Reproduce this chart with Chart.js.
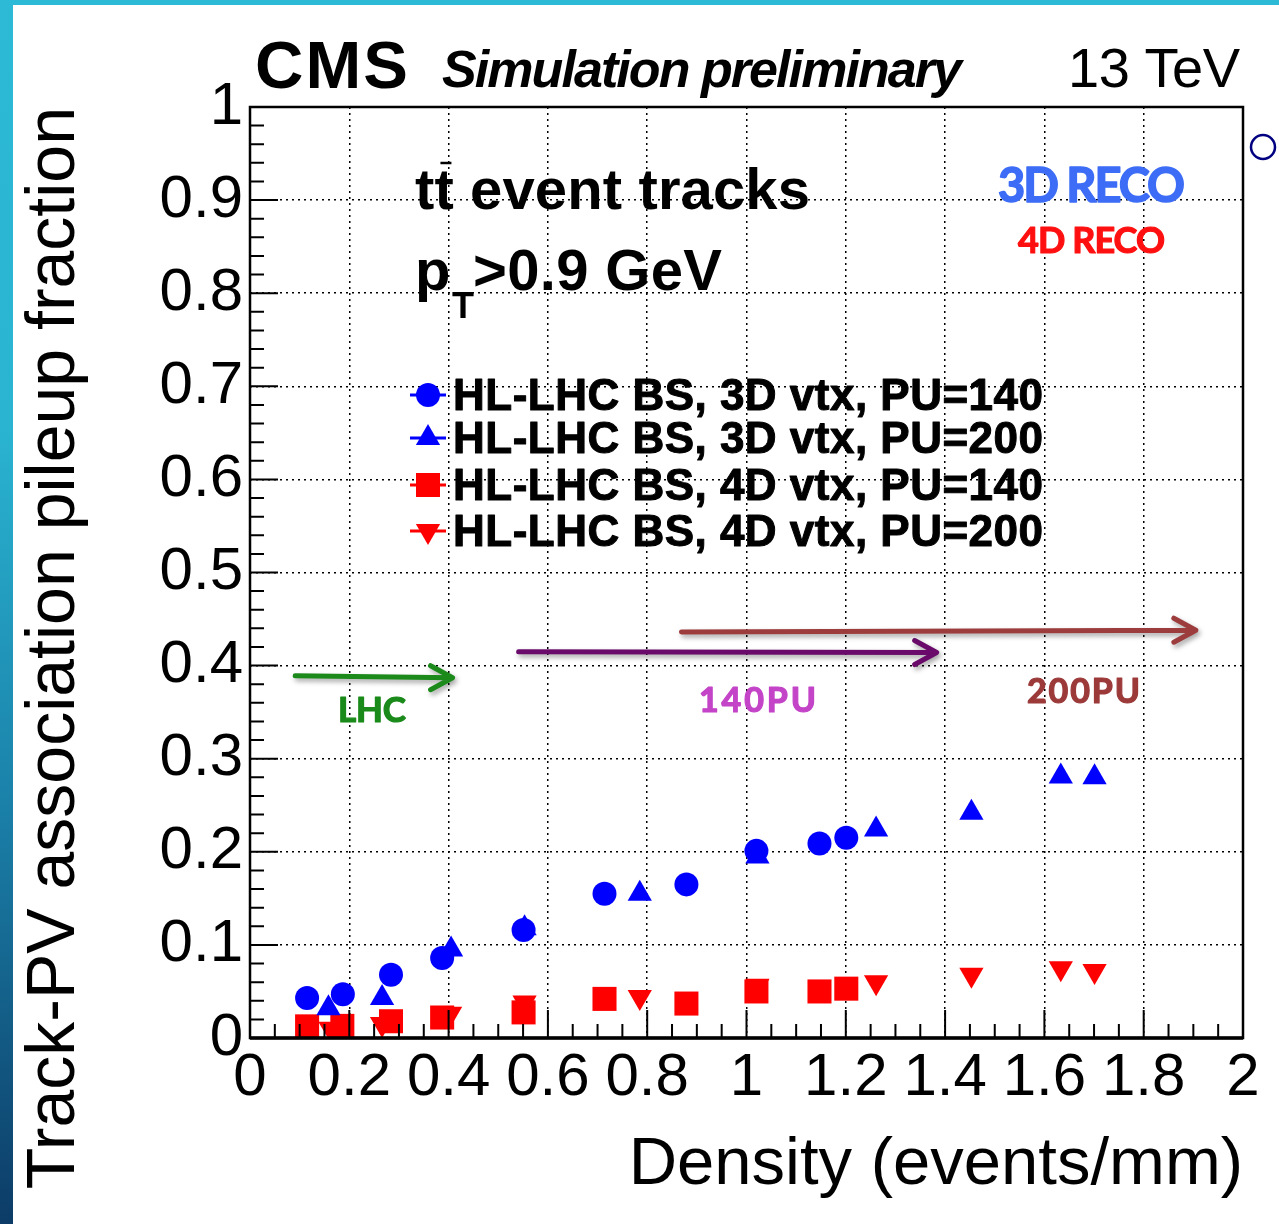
<!DOCTYPE html>
<html>
<head>
<meta charset="utf-8">
<title>Track-PV association pileup fraction</title>
<script src="https://cdn.jsdelivr.net/npm/chart.js@4.4.1/dist/chart.umd.min.js"></script>
<style>
	html, body { margin: 0; padding: 0; background: #fff; }
	#wrap { position: relative; width: 1279px; height: 1224px; overflow: hidden; background: #fff; }
	#chart { position: absolute; left: 0; top: 0; }
	#topband { position: absolute; left: 0; top: 0; width: 1279px; height: 5px; background: #2cbad6; }
	#leftband { position: absolute; left: 0; top: 0; width: 13px; height: 1224px;
		background: linear-gradient(#2cbad6 0%, #2ab4d1 35%, #1b82aa 65%, #0c3c67 100%); }
</style>
</head>
<body>
<div id="wrap">
	<canvas id="chart" width="1279" height="1224"></canvas>
	<div id="topband"></div>
	<div id="leftband"></div>
</div>
<script>
// values (density in events/mm, pileup fraction)
var density3d140 = [0.115, 0.187, 0.284, 0.387, 0.551, 0.714, 0.879, 1.020, 1.147, 1.201];
var frac3d140    = [0.043, 0.047, 0.068, 0.086, 0.116, 0.155, 0.165, 0.201, 0.209, 0.215];
var density3d200 = [0.158, 0.266, 0.405, 0.553, 0.785, 1.022, 1.261, 1.453, 1.633, 1.701];
var frac3d200    = [0.032, 0.043, 0.095, 0.118, 0.155, 0.195, 0.224, 0.242, 0.281, 0.280];
var density4d140 = [0.115, 0.186, 0.284, 0.387, 0.551, 0.714, 0.879, 1.020, 1.147, 1.201];
var frac4d140    = [0.0125, 0.013, 0.018, 0.022, 0.0275, 0.042, 0.037, 0.050, 0.050, 0.053];
var density4d200 = [0.162, 0.266, 0.403, 0.553, 0.785, 1.022, 1.261, 1.453, 1.633, 1.701];
var frac4d200    = [0.010, 0.015, 0.026, 0.038, 0.044, 0.056, 0.060, 0.068, 0.075, 0.072];

var seriesLabels = ['HL-LHC BS, 3D vtx, PU=140', 'HL-LHC BS, 3D vtx, PU=200',
	'HL-LHC BS, 4D vtx, PU=140', 'HL-LHC BS, 4D vtx, PU=200'];

// x axis 0..2 step 0.2, y axis 0..1 step 0.1
var xTicks = [0, 0.2, 0.4, 0.6, 0.8, 1, 1.2, 1.4, 1.6, 1.8, 2];
var yTicks = [0, 0.1, 0.2, 0.3, 0.4, 0.5, 0.6, 0.7, 0.8, 0.9, 1];

// pileup arrows: [x0, y0, x1, y1] in axis units
var arrowLHC   = [0.091, 0.389, 0.408, 0.387];
var arrow140PU = [0.541, 0.415, 1.383, 0.414];
var arrow200PU = [0.869, 0.436, 1.905, 0.438];

!(function(){
	'use strict';

	var FONT = '"Liberation Sans", Arial, Helvetica, sans-serif';
	var LABELFONT = 'Lato, "Open Sans", sans-serif';

	function pts(xs, ys){
		var out = [];
		for (var i = 0; i < xs.length; i++) {
			out.push({ x: xs[i], y: ys[i] });
		}
		return out;
	}

	function fmt(v){
		return String(+(+v).toFixed(1));
	}

	// draw text squeezed / stretched to a given width (ROOT-ish look)
	function fitText(ctx, text, x, y, width, heavy){
		ctx.letterSpacing = '0px';
		var w = ctx.measureText(text).width;
		var sp = text.length > 1 ? (width - w) / (text.length - 1) : 0;
		ctx.letterSpacing = sp + 'px';
		ctx.fillText(text, x, y);
		if (heavy) {
			ctx.strokeStyle = ctx.fillStyle;
			ctx.lineWidth = heavy;
			ctx.lineJoin = 'round';
			ctx.strokeText(text, x, y);
		}
		ctx.letterSpacing = '0px';
		return sp;
	}

	function drawMarker(ctx, style, x, y, r, color){
		ctx.fillStyle = color;
		ctx.beginPath();
		if (style === 'circle') {
			ctx.arc(x, y, r, 0, Math.PI * 2);
		} else if (style === 'rect') {
			var s = r * Math.SQRT1_2;
			ctx.rect(x - s, y - s, 2 * s, 2 * s);
		} else if (style === 'up') {
			ctx.moveTo(x, y - r);
			ctx.lineTo(x + r * 0.866, y + r / 2);
			ctx.lineTo(x - r * 0.866, y + r / 2);
			ctx.closePath();
		} else {
			ctx.moveTo(x, y + r);
			ctx.lineTo(x + r * 0.866, y - r / 2);
			ctx.lineTo(x - r * 0.866, y - r / 2);
			ctx.closePath();
		}
		ctx.fill();
	}

	function drawArrow(ctx, xs, ys, a, color){
		var x0 = xs.getPixelForValue(a[0]), y0 = ys.getPixelForValue(a[1]);
		var x1 = xs.getPixelForValue(a[2]), y1 = ys.getPixelForValue(a[3]);
		ctx.save();
		ctx.strokeStyle = color;
		ctx.lineWidth = 5;
		ctx.lineCap = 'round';
		ctx.lineJoin = 'round';
		ctx.shadowColor = 'rgba(0,0,0,0.35)';
		ctx.shadowBlur = 5;
		ctx.shadowOffsetX = 2;
		ctx.shadowOffsetY = 3;
		ctx.beginPath();
		ctx.moveTo(x0, y0);
		ctx.lineTo(x1, y1);
		ctx.moveTo(x1 - 22, y1 - 12);
		ctx.lineTo(x1, y1);
		ctx.lineTo(x1 - 22, y1 + 12);
		ctx.stroke();
		ctx.restore();
	}

	var decor = {
		id: 'cmsDecor',
		afterDraw: function(chart){
			var ctx = chart.ctx;
			var xs = chart.scales.x, ys = chart.scales.y;
			var a = chart.chartArea;
			var i, p, len;

			ctx.save();

			// inner ticks
			ctx.strokeStyle = '#000';
			ctx.lineWidth = 2;
			ctx.beginPath();
			for (i = 0; i <= 40; i++) {
				p = xs.getPixelForValue(i * 0.05);
				len = (i % 4 === 0) ? 28 : 14;
				ctx.moveTo(p, a.bottom);
				ctx.lineTo(p, a.bottom - len);
			}
			for (i = 0; i <= 50; i++) {
				p = ys.getPixelForValue(i * 0.02);
				len = (i % 5 === 0) ? 28 : 14;
				ctx.moveTo(a.left, p);
				ctx.lineTo(a.left + len, p);
			}
			ctx.stroke();

			// frame
			ctx.lineWidth = 2.5;
			ctx.strokeRect(a.left, a.top, a.right - a.left, a.bottom - a.top);
			ctx.lineWidth = 3.5;
			ctx.beginPath();
			ctx.moveTo(a.left, a.bottom);
			ctx.lineTo(a.right, a.bottom);
			ctx.stroke();

			// header
			ctx.fillStyle = '#000';
			ctx.textAlign = 'left';
			ctx.textBaseline = 'alphabetic';
			ctx.font = 'bold 67px ' + FONT;
			fitText(ctx, 'CMS', 255, 88, 153);
			ctx.font = 'italic bold 52px ' + FONT;
			fitText(ctx, 'Simulation preliminary', 442, 87, 520);
			ctx.font = '56px ' + FONT;
			fitText(ctx, '13 TeV', 1068, 87, 172);

			// tt event tracks
			ctx.font = 'bold 58px ' + FONT;
			var sp = fitText(ctx, 'tt event tracks', 415, 209, 395);
			var tw = ctx.measureText('t').width + sp;
			ctx.lineWidth = 2.5;
			ctx.strokeStyle = '#000';
			ctx.beginPath();
			ctx.moveTo(415 + tw + 6, 163);
			ctx.lineTo(415 + tw + 17, 163);
			ctx.stroke();

			// pT > 0.9 GeV
			ctx.font = 'bold 58px ' + FONT;
			ctx.fillText('p', 415, 290);
			ctx.font = 'bold 36px ' + FONT;
			ctx.fillText('T', 452, 318);
			ctx.font = 'bold 58px ' + FONT;
			fitText(ctx, '>0.9 GeV', 473, 290, 249);

			// legend
			var styles = ['circle', 'up', 'rect', 'down'];
			var colors = ['#0000ff', '#0000ff', '#ff0000', '#ff0000'];
			var sizes = [12, 14, 17, 14];
			var rows = [395, 438, 485, 531];
			for (i = 0; i < 4; i++) {
				ctx.strokeStyle = colors[i];
				ctx.lineWidth = 3;
				ctx.beginPath();
				ctx.moveTo(410, rows[i]);
				ctx.lineTo(446, rows[i]);
				ctx.stroke();
				drawMarker(ctx, styles[i], 428, rows[i], sizes[i], colors[i]);
				ctx.fillStyle = '#000';
				ctx.font = 'bold 44px ' + FONT;
				fitText(ctx, seriesLabels[i], 453, rows[i] + 15, 590, 1);
			}

			// reconstruction labels
			ctx.font = 'bold 47px ' + LABELFONT;
			ctx.fillStyle = '#3d6df6';
			fitText(ctx, '3D RECO', 998, 202, 187, 1.5);
			ctx.font = 'bold 36px ' + LABELFONT;
			ctx.fillStyle = '#ff1010';
			fitText(ctx, '4D RECO', 1018, 253, 147, 1.2);

			// pileup arrows + labels
			drawArrow(ctx, xs, ys, arrowLHC, '#1b8a1b');
			drawArrow(ctx, xs, ys, arrow140PU, '#6a0a6a');
			drawArrow(ctx, xs, ys, arrow200PU, '#9c3c3c');
			ctx.font = 'bold 35px ' + LABELFONT;
			ctx.fillStyle = '#1a8a1a';
			fitText(ctx, 'LHC', 338, 722, 68, 1.2);
			ctx.font = 'bold 34px ' + LABELFONT;
			ctx.fillStyle = '#c444c8';
			fitText(ctx, '140PU', 699, 712, 117, 1.2);
			ctx.fillStyle = '#9c3a3a';
			fitText(ctx, '200PU', 1027, 703, 113, 1.2);

			// stray open marker right of the frame
			ctx.strokeStyle = '#000080';
			ctx.lineWidth = 2.5;
			ctx.beginPath();
			ctx.arc(1263, 147, 12, 0, Math.PI * 2);
			ctx.stroke();

			ctx.restore();
		}
	};

	var ctx = document.getElementById('chart').getContext('2d');
	var myChart = new Chart(ctx, {
		type: 'scatter',
		data: {
			datasets: [{
				label: seriesLabels[0],
				data: pts(density3d140, frac3d140),
				pointStyle: 'circle',
				pointRadius: 12,
				backgroundColor: '#0000ff',
				pointBorderWidth: 0
			}, {
				label: seriesLabels[1],
				data: pts(density3d200, frac3d200),
				pointStyle: 'triangle',
				pointRadius: 14,
				backgroundColor: '#0000ff',
				pointBorderWidth: 0
			}, {
				label: seriesLabels[2],
				data: pts(density4d140, frac4d140),
				pointStyle: 'rect',
				pointRadius: 17,
				backgroundColor: '#ff0000',
				pointBorderWidth: 0
			}, {
				label: seriesLabels[3],
				data: pts(density4d200, frac4d200),
				pointStyle: 'triangle',
				pointRotation: 180,
				pointRadius: 14,
				backgroundColor: '#ff0000',
				pointBorderWidth: 0
			}]
		},
		options: {
			responsive: false,
			animation: false,
			layout: { padding: { top: 107, right: 36, left: 0, bottom: 0 } },
			plugins: {
				legend: { display: false },
				tooltip: { enabled: false }
			},
			scales: {
				x: {
					type: 'linear',
					min: xTicks[0],
					max: xTicks[xTicks.length - 1],
					afterFit: function(s){ s.height = 186; },
					afterBuildTicks: function(s){ s.ticks = xTicks.map(function(v){ return { value: v }; }); },
					ticks: {
						padding: 4,
						color: '#000',
						maxRotation: 0,
						autoSkip: false,
						font: { family: FONT, size: 60 },
						callback: fmt
					},
					grid: { color: '#000', lineWidth: 1.5, drawTicks: false },
					border: { display: false, dash: [2, 4] },
					title: {
						display: true,
						text: 'Density (events/mm)',
						align: 'end',
						color: '#000',
						font: { family: FONT, size: 67 },
						padding: { top: 0, bottom: 18 }
					}
				},
				y: {
					type: 'linear',
					min: yTicks[0],
					max: yTicks[yTicks.length - 1],
					afterFit: function(s){ s.width = 250; },
					afterBuildTicks: function(s){ s.ticks = yTicks.map(function(v){ return { value: v }; }); },
					ticks: {
						padding: 7,
						color: '#000',
						autoSkip: false,
						font: { family: FONT, size: 60 },
						callback: fmt
					},
					grid: { color: '#000', lineWidth: 1.5, drawTicks: false },
					border: { display: false, dash: [2, 4] },
					title: {
						display: true,
						text: 'Track-PV association pileup fraction',
						align: 'end',
						color: '#000',
						font: { family: FONT, size: 68 },
						padding: { top: 14, bottom: 0 }
					}
				}
			}
		},
		plugins: [decor]
	});
})();
</script>
</body>
</html>
